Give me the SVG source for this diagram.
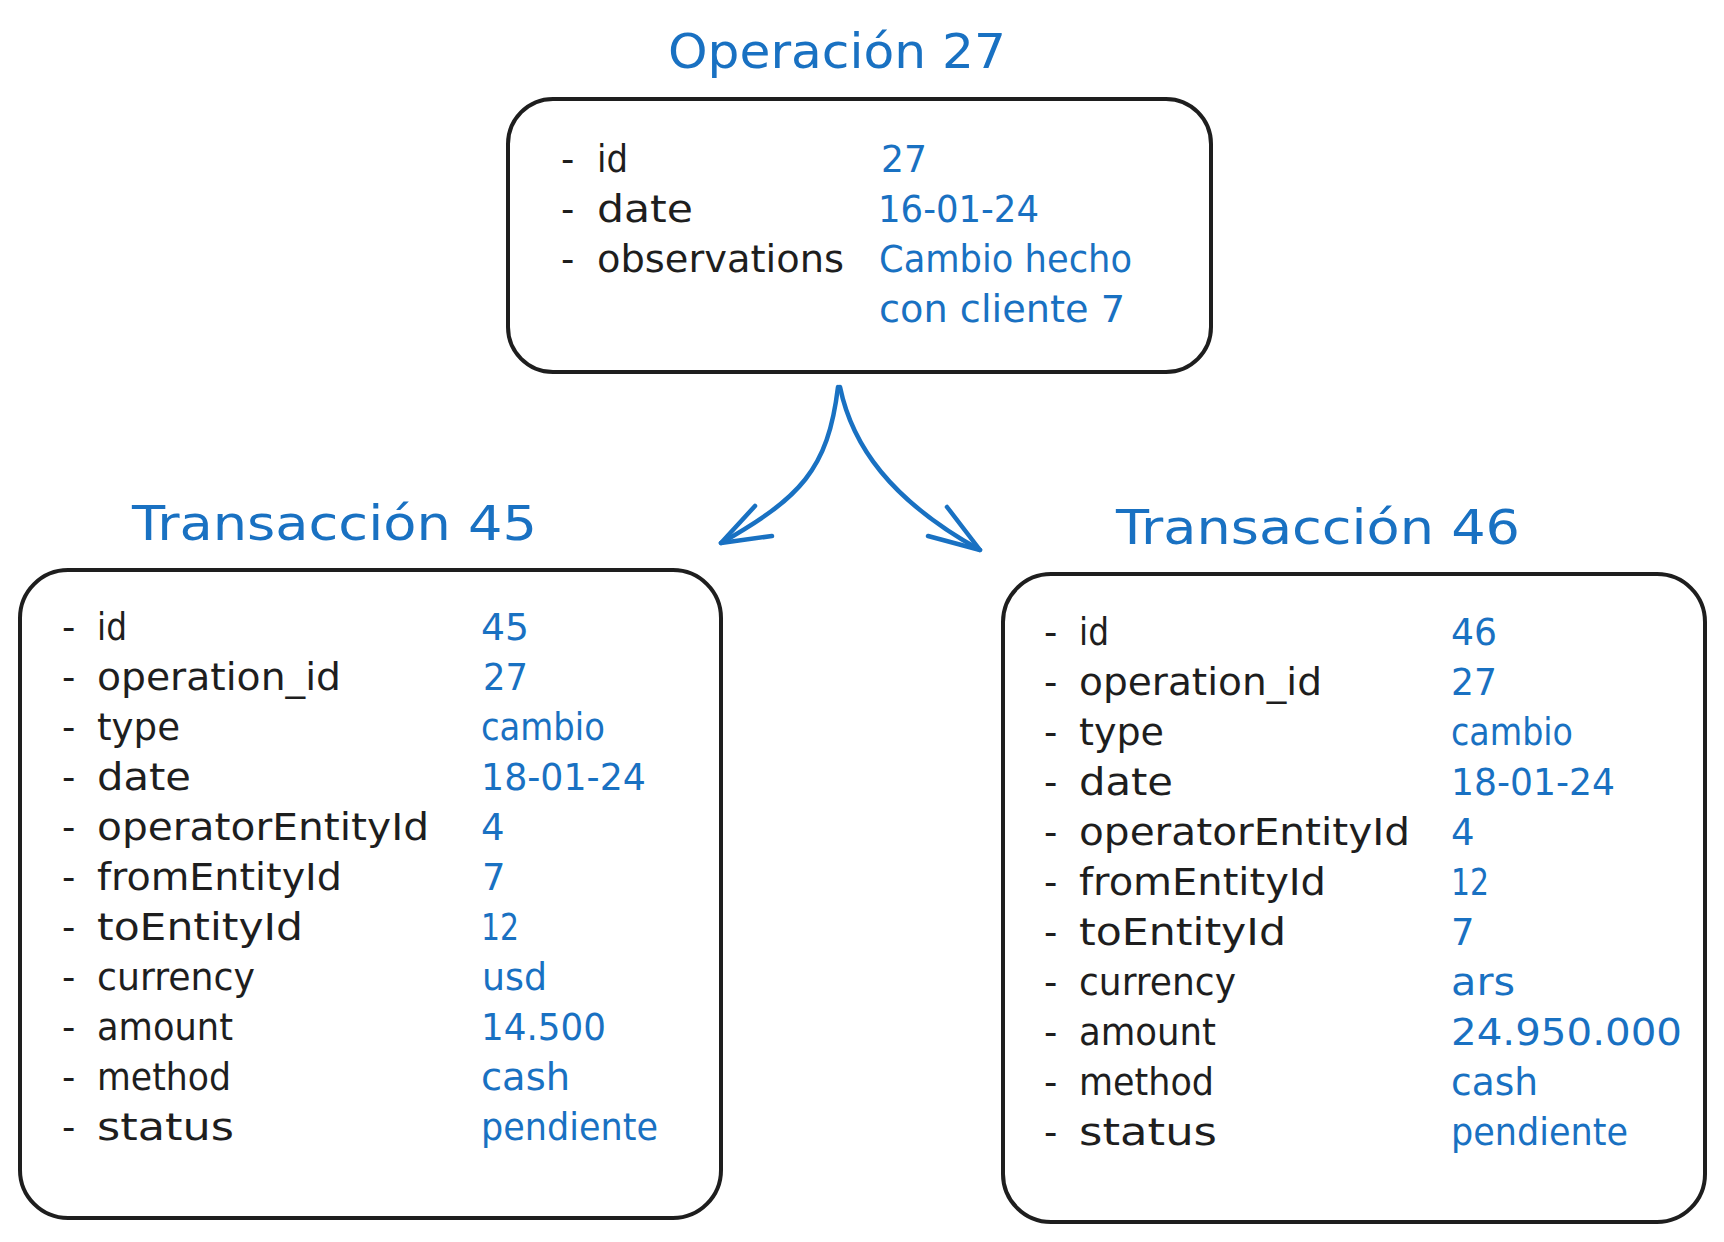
<svg xmlns="http://www.w3.org/2000/svg" width="1724" height="1242" viewBox="0 0 1724 1242">
  <style>
    .box { fill: #ffffff; stroke: #1e1e1e; stroke-width: 4; }
    .title { font-family: "DejaVu Sans", sans-serif; font-size: 48px; fill: #1971c2; }
    .lbl { font-family: "DejaVu Sans", sans-serif; font-size: 37px; fill: #1e1e1e; }
    .val { font-family: "DejaVu Sans", sans-serif; font-size: 37px; fill: #1971c2; }
    .conn { fill: none; stroke: #1971c2; stroke-width: 4.5; stroke-linecap: round; stroke-linejoin: round; }
  </style>
  <rect width="1724" height="1242" fill="#ffffff"/>

  <g id="operacion-27">
    <text class="title" x="668" y="68" textLength="338" lengthAdjust="spacingAndGlyphs">Operación 27</text>
    <rect class="box" x="508" y="99" width="703" height="273" rx="45" ry="45"/>
    <text class="lbl" y="172"><tspan x="561">-</tspan> <tspan x="597" textLength="31" lengthAdjust="spacingAndGlyphs">id</tspan></text>
    <text class="lbl" y="222"><tspan x="561">-</tspan> <tspan x="597" textLength="96" lengthAdjust="spacingAndGlyphs">date</tspan></text>
    <text class="lbl" y="272"><tspan x="561">-</tspan> <tspan x="597" textLength="247" lengthAdjust="spacingAndGlyphs">observations</tspan></text>
    <text class="val" x="881" y="172" textLength="46" lengthAdjust="spacingAndGlyphs">27</text>
    <text class="val" x="878" y="222" textLength="161" lengthAdjust="spacingAndGlyphs">16-01-24</text>
    <text class="val" x="879" y="272" textLength="253" lengthAdjust="spacingAndGlyphs">Cambio hecho</text>
    <text class="val" x="879" y="322" textLength="246" lengthAdjust="spacingAndGlyphs">con cliente 7</text>
  </g>

  <g id="transaccion-45">
    <text class="title" x="132" y="540" textLength="405" lengthAdjust="spacingAndGlyphs">Transacción 45</text>
    <rect class="box" x="20" y="570" width="701" height="648" rx="48" ry="48"/>
    <text class="lbl" y="640"><tspan x="62">-</tspan> <tspan x="97" textLength="30" lengthAdjust="spacingAndGlyphs">id</tspan></text>
    <text class="lbl" y="690"><tspan x="62">-</tspan> <tspan x="97" textLength="244" lengthAdjust="spacingAndGlyphs">operation_id</tspan></text>
    <text class="lbl" y="740"><tspan x="62">-</tspan> <tspan x="97" textLength="83" lengthAdjust="spacingAndGlyphs">type</tspan></text>
    <text class="lbl" y="790"><tspan x="62">-</tspan> <tspan x="97" textLength="94" lengthAdjust="spacingAndGlyphs">date</tspan></text>
    <text class="lbl" y="840"><tspan x="62">-</tspan> <tspan x="97" textLength="332" lengthAdjust="spacingAndGlyphs">operatorEntityId</tspan></text>
    <text class="lbl" y="890"><tspan x="62">-</tspan> <tspan x="97" textLength="245" lengthAdjust="spacingAndGlyphs">fromEntityId</tspan></text>
    <text class="lbl" y="940"><tspan x="62">-</tspan> <tspan x="97" textLength="206" lengthAdjust="spacingAndGlyphs">toEntityId</tspan></text>
    <text class="lbl" y="990"><tspan x="62">-</tspan> <tspan x="97" textLength="158" lengthAdjust="spacingAndGlyphs">currency</tspan></text>
    <text class="lbl" y="1040"><tspan x="62">-</tspan> <tspan x="97" textLength="136" lengthAdjust="spacingAndGlyphs">amount</tspan></text>
    <text class="lbl" y="1090"><tspan x="62">-</tspan> <tspan x="97" textLength="134" lengthAdjust="spacingAndGlyphs">method</tspan></text>
    <text class="lbl" y="1140"><tspan x="62">-</tspan> <tspan x="97" textLength="137" lengthAdjust="spacingAndGlyphs">status</tspan></text>
    <text class="val" x="481" y="640" textLength="48" lengthAdjust="spacingAndGlyphs">45</text>
    <text class="val" x="483" y="690" textLength="45" lengthAdjust="spacingAndGlyphs">27</text>
    <text class="val" x="481" y="740" textLength="124" lengthAdjust="spacingAndGlyphs">cambio</text>
    <text class="val" x="481" y="790" textLength="165" lengthAdjust="spacingAndGlyphs">18-01-24</text>
    <text class="val" x="481" y="840">4</text>
    <text class="val" x="482" y="890">7</text>
    <text class="val" x="481" y="940" textLength="38" lengthAdjust="spacingAndGlyphs">12</text>
    <text class="val" x="482" y="990" textLength="65" lengthAdjust="spacingAndGlyphs">usd</text>
    <text class="val" x="481" y="1040" textLength="125" lengthAdjust="spacingAndGlyphs">14.500</text>
    <text class="val" x="481" y="1090" textLength="89" lengthAdjust="spacingAndGlyphs">cash</text>
    <text class="val" x="481" y="1140" textLength="177" lengthAdjust="spacingAndGlyphs">pendiente</text>
  </g>

  <g id="transaccion-46">
    <text class="title" x="1116" y="544" textLength="404" lengthAdjust="spacingAndGlyphs">Transacción 46</text>
    <rect class="box" x="1003" y="574" width="702" height="648" rx="48" ry="48"/>
    <text class="lbl" y="645"><tspan x="1044">-</tspan> <tspan x="1079" textLength="30" lengthAdjust="spacingAndGlyphs">id</tspan></text>
    <text class="lbl" y="695"><tspan x="1044">-</tspan> <tspan x="1079" textLength="243" lengthAdjust="spacingAndGlyphs">operation_id</tspan></text>
    <text class="lbl" y="745"><tspan x="1044">-</tspan> <tspan x="1079" textLength="85" lengthAdjust="spacingAndGlyphs">type</tspan></text>
    <text class="lbl" y="795"><tspan x="1044">-</tspan> <tspan x="1079" textLength="94" lengthAdjust="spacingAndGlyphs">date</tspan></text>
    <text class="lbl" y="845"><tspan x="1044">-</tspan> <tspan x="1079" textLength="331" lengthAdjust="spacingAndGlyphs">operatorEntityId</tspan></text>
    <text class="lbl" y="895"><tspan x="1044">-</tspan> <tspan x="1079" textLength="247" lengthAdjust="spacingAndGlyphs">fromEntityId</tspan></text>
    <text class="lbl" y="945"><tspan x="1044">-</tspan> <tspan x="1079" textLength="207" lengthAdjust="spacingAndGlyphs">toEntityId</tspan></text>
    <text class="lbl" y="995"><tspan x="1044">-</tspan> <tspan x="1079" textLength="157" lengthAdjust="spacingAndGlyphs">currency</tspan></text>
    <text class="lbl" y="1045"><tspan x="1044">-</tspan> <tspan x="1079" textLength="137" lengthAdjust="spacingAndGlyphs">amount</tspan></text>
    <text class="lbl" y="1095"><tspan x="1044">-</tspan> <tspan x="1079" textLength="135" lengthAdjust="spacingAndGlyphs">method</tspan></text>
    <text class="lbl" y="1145"><tspan x="1044">-</tspan> <tspan x="1079" textLength="138" lengthAdjust="spacingAndGlyphs">status</tspan></text>
    <text class="val" x="1451" y="645" textLength="46" lengthAdjust="spacingAndGlyphs">46</text>
    <text class="val" x="1451" y="695" textLength="46" lengthAdjust="spacingAndGlyphs">27</text>
    <text class="val" x="1451" y="745" textLength="122" lengthAdjust="spacingAndGlyphs">cambio</text>
    <text class="val" x="1451" y="795" textLength="164" lengthAdjust="spacingAndGlyphs">18-01-24</text>
    <text class="val" x="1451" y="845">4</text>
    <text class="val" x="1451" y="895" textLength="38" lengthAdjust="spacingAndGlyphs">12</text>
    <text class="val" x="1451" y="945">7</text>
    <text class="val" x="1451" y="995" textLength="64" lengthAdjust="spacingAndGlyphs">ars</text>
    <text class="val" x="1451" y="1045" textLength="231" lengthAdjust="spacingAndGlyphs">24.950.000</text>
    <text class="val" x="1451" y="1095" textLength="87" lengthAdjust="spacingAndGlyphs">cash</text>
    <text class="val" x="1451" y="1145" textLength="177" lengthAdjust="spacingAndGlyphs">pendiente</text>
  </g>

  <g id="connectors">
    <path class="conn" d="M838,387 C828,470 800,498 721,543"/>
    <polyline class="conn" points="755,506 721,543 772,536"/>
    <path class="conn" d="M840,387 C852,445 890,500 980,550"/>
    <polyline class="conn" points="947,507 980,550 928,536"/>
  </g>
</svg>
